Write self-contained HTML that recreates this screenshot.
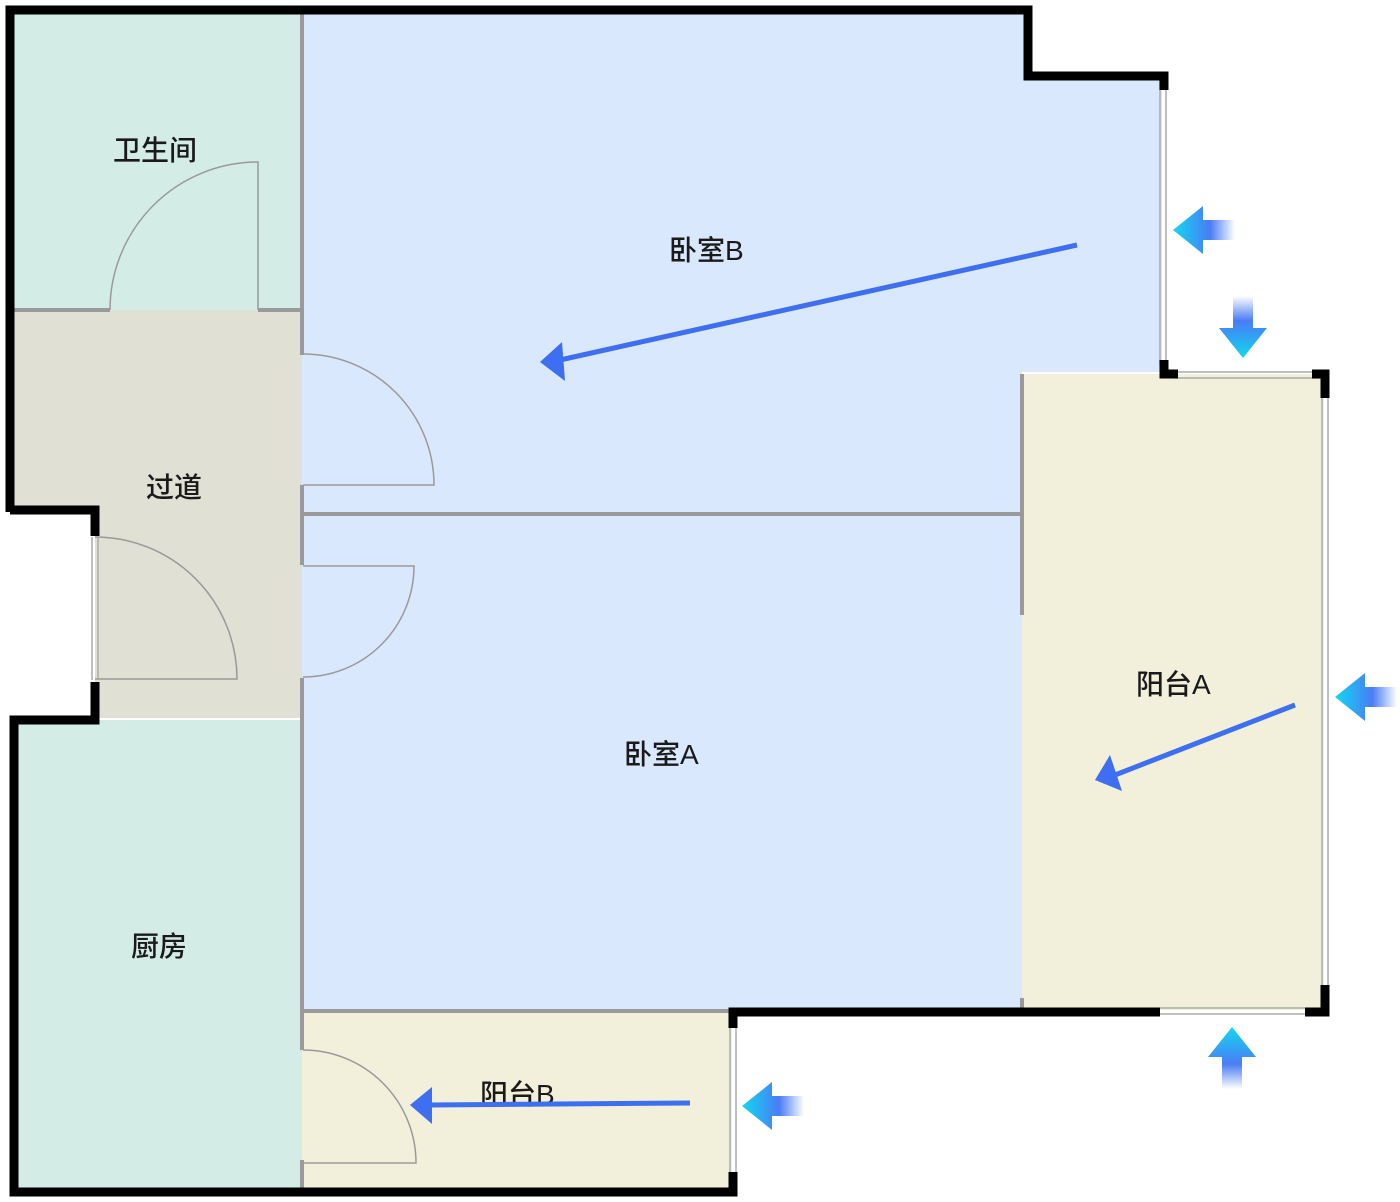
<!DOCTYPE html>
<html><head><meta charset="utf-8"><style>
html,body{margin:0;padding:0;background:#fff;}
svg{display:block;}
text{font-family:"Liberation Sans","Noto Sans CJK SC",sans-serif;font-size:28px;fill:#1a1a1a;font-weight:500;}
</style></head><body>
<svg width="1400" height="1202" viewBox="0 0 1400 1202" xmlns="http://www.w3.org/2000/svg">
<defs>
<linearGradient id="gl" x1="0" y1="0" x2="1" y2="0">
<stop offset="0" stop-color="#12d8f0"/><stop offset="0.6" stop-color="#4a7cf5"/><stop offset="1" stop-color="#4a7cf5" stop-opacity="0"/>
</linearGradient>
<g id="arr"><path d="M0,0 L30,-24 L30,-10 L62,-10 L62,10 L30,10 L30,24 Z" fill="url(#gl)"/></g>
</defs>
<rect x="14" y="14" width="288" height="296" fill="#d3ede6"/>
<path d="M14,310 H302 V718 H95 V510 H14 Z" fill="#e0e0d5"/>
<rect x="16" y="720" width="286" height="470" fill="#d3ede6"/>
<path d="M302,14 H1028 V76 H1162 V372 H1022 V514 H302 Z" fill="#dae8fd"/>
<rect x="302" y="514" width="720" height="496" fill="#dae8fd"/>
<rect x="1022" y="374" width="302" height="636" fill="#f2f0da"/>
<rect x="302" y="1012" width="430" height="178" fill="#f2f0da"/>
<g stroke="#9a9a9a" stroke-width="4" fill="none">
<line x1="302" y1="10" x2="302" y2="355"/><line x1="302" y1="485" x2="302" y2="565"/><line x1="302" y1="678" x2="302" y2="1050"/><line x1="302" y1="1160" x2="302" y2="1192"/>
<line x1="10" y1="310" x2="110" y2="310"/><line x1="258" y1="310" x2="302" y2="310"/>
<line x1="302" y1="514" x2="1022" y2="514"/>
<line x1="1022" y1="374" x2="1022" y2="615"/>
<line x1="1022" y1="998" x2="1022" y2="1010"/>
<line x1="302" y1="1011" x2="735" y2="1011"/>
</g>
<g stroke="#999" stroke-width="1.5" fill="none">
<path d="M110,310 A148,148 0 0 1 258,162 V310"/>
<path d="M303,354 A131,131 0 0 1 434,485 H303"/>
<path d="M303,566 H414 A111,111 0 0 1 303,677"/>
<path d="M95,537 A142,142 0 0 1 237,679 H95"/>
<path d="M303,1050 A113,113 0 0 1 416,1163 H303"/>
</g>
<g stroke="#aaa" stroke-width="1.5" fill="none">
<line x1="1160" y1="80" x2="1160" y2="365"/><line x1="1166" y1="80" x2="1166" y2="365"/>
<line x1="1175" y1="372" x2="1320" y2="372"/><line x1="1175" y1="378" x2="1320" y2="378"/>
<line x1="1322" y1="395" x2="1322" y2="990"/><line x1="1328" y1="395" x2="1328" y2="990"/>
<line x1="1160" y1="1008" x2="1305" y2="1008"/><line x1="1160" y1="1014" x2="1305" y2="1014"/>
<line x1="730" y1="1025" x2="730" y2="1175"/><line x1="736" y1="1025" x2="736" y2="1175"/>
<line x1="92" y1="537" x2="92" y2="680"/><line x1="98" y1="537" x2="98" y2="680"/>
</g>
<g stroke="#000" stroke-width="9" fill="none" stroke-linejoin="miter">
<polyline points="10,512 10,10 1028,10 1028,76 1164,76 1164,90"/>
<polyline points="1164,360 1164,374 1178,374"/>
<polyline points="1312,374 1325,374 1325,398"/>
<polyline points="1325,985 1325,1012 1305,1012"/>
<polyline points="1160,1012 733,1012 733,1028"/>
<polyline points="733,1172 733,1192 14,1192 14,720 95,720 95,682"/>
<polyline points="95,536 95,510 10,510"/>
</g>
<text x="113" y="160">卫生间</text>
<text x="146" y="497">过道</text>
<text x="131" y="956">厨房</text>
<text x="669" y="260">卧室B</text>
<text x="624" y="764">卧室A</text>
<text x="1136" y="694">阳台A</text>
<text x="480" y="1104">阳台B</text>
<g stroke="#3d6ff0" stroke-width="5" fill="#3d6ff0">
<line x1="1077" y1="245" x2="560" y2="360"/>
<line x1="1295" y1="705" x2="1115" y2="775"/>
<line x1="690" y1="1103" x2="430" y2="1105"/>
</g>
<g fill="#3d6ff0">
<path d="M540,362 L562,342 L565,381 Z"/>
<path d="M1095,780 L1110,755 L1122,791 Z"/>
<path d="M410,1105 L432,1087 L432,1124 Z"/>
</g>
<use href="#arr" transform="translate(1173,230)"/>
<use href="#arr" transform="translate(1243,358) rotate(-90)"/>
<use href="#arr" transform="translate(1335,697)"/>
<use href="#arr" transform="translate(1232,1027) rotate(90)"/>
<use href="#arr" transform="translate(742,1106)"/>
</svg>
</body></html>
